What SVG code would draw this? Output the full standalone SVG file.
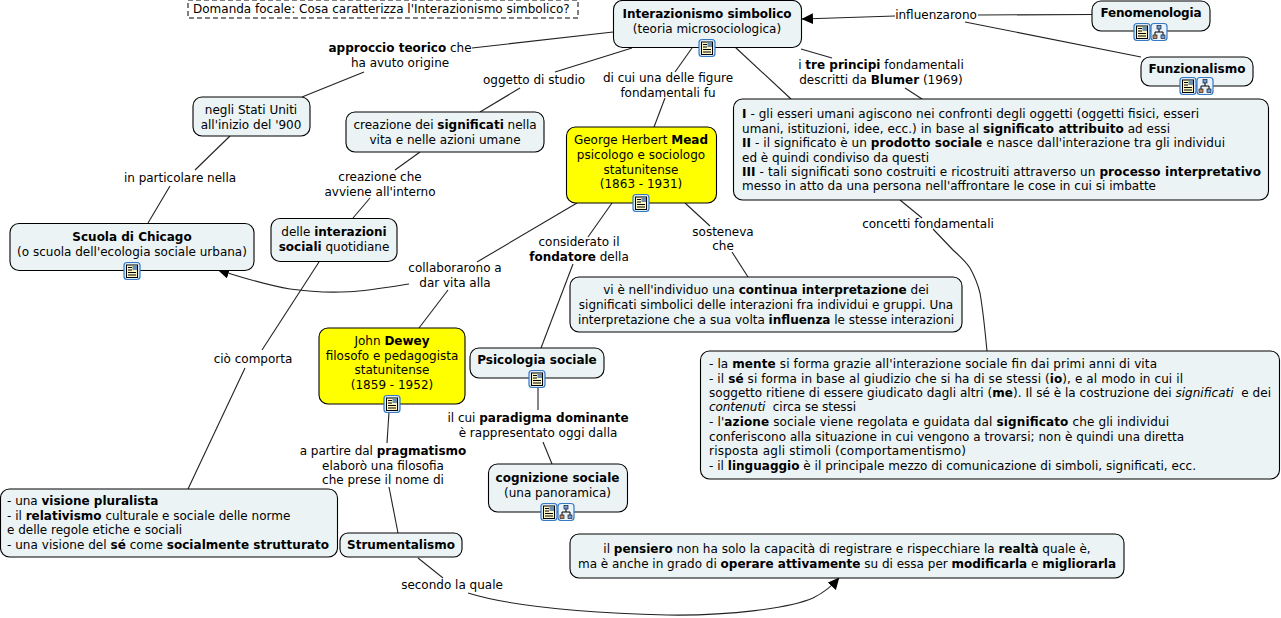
<svg xmlns="http://www.w3.org/2000/svg" width="1281" height="618" viewBox="0 0 1281 618">
<style>
text{font-family:"DejaVu Sans",Verdana,sans-serif;font-size:12px;fill:#000}
.m{text-anchor:middle}
.b{font-weight:bold}
.i{font-style:italic}
.p{white-space:pre}
.n{fill:#ebf3f5;stroke:#000;stroke-width:1.1}
.y{fill:#ffff00;stroke:#000;stroke-width:1.1}
#connectors path{fill:none;stroke:#222;stroke-width:1.1}
</style>
<defs>
<marker id="ah" markerUnits="userSpaceOnUse" markerWidth="13" markerHeight="12" refX="11" refY="5.500" orient="auto"><path d="M0,0L11.500,5.500L0,11Z" fill="#000"/></marker>
<g id="doc"><rect x="-8" y="-8.500" width="16" height="17" rx="3" fill="#dcebfa" stroke="#3578c4" stroke-width="1.200"/><rect x="-5.500" y="-6" width="11" height="12.500" fill="#fdf6c3" stroke="#000" stroke-width="1"/><path d="M-4,-3.500h4M-4,-1h4M-4,1.500h8M-4,4h8" stroke="#000" stroke-width="1"/><rect x="0.500" y="-5.500" width="4.500" height="4.500" fill="#6a8fb0"/></g>
<g id="map"><rect x="-8" y="-8.500" width="16" height="17" rx="3" fill="#eaf3fc" stroke="#3578c4" stroke-width="1.200"/><path d="M0,-3V0M-4,3V0H4V3" fill="none" stroke="#000" stroke-width="1"/><rect x="-2" y="-6.500" width="4" height="3.500" fill="#6f9fd8" stroke="#000" stroke-width=".6"/><rect x="-6" y="3" width="4" height="3.500" fill="#c08a6a" stroke="#000" stroke-width=".6"/><rect x="2" y="3" width="4" height="3.500" fill="#6f9fd8" stroke="#000" stroke-width=".6"/></g>
</defs>
<g id="connectors">
<path d="M895,16L802,19" marker-end="url(#ah)"/>
<path d="M978,15L1092,14.500"/>
<path d="M965,22L1141,57"/>
<path d="M613,32L472,48"/>
<path d="M364,72L302,97"/>
<path d="M632,48L555,72"/>
<path d="M520,88L480,112"/>
<path d="M692,48L675,72"/>
<path d="M665,98L654,127"/>
<path d="M735,47L791,99"/>
<path d="M801,49L832,58"/>
<path d="M905,88L922,99"/>
<path d="M900,200L922,218"/>
<path d="M933,229L953,250C962,258 966,262 970,268C975,277 978,285 980,293C983,310 985,330 987,351"/>
<path d="M230,136L195,170"/>
<path d="M170,186L148,223"/>
<path d="M420,152L395,170"/>
<path d="M370,198L353,218"/>
<path d="M319,262L262,350"/>
<path d="M245,368L188,489"/>
<path d="M577,203L477,262"/>
<path d="M409,284C370,290 340,296 290,289C265,285 245,278 218,270" marker-end="url(#ah)"/>
<path d="M448,290L419,328"/>
<path d="M612,203L588,237"/>
<path d="M573,264L541,348"/>
<path d="M685,203L710,226"/>
<path d="M732,252L748,277"/>
<path d="M389,412L387,443"/>
<path d="M389,487L398,533"/>
<path d="M538,387L538,410"/>
<path d="M543,442L552,464"/>
<path d="M418,558L443,578"/>
<path d="M468,593C500,603 560,612 667,615C730,616 790,608 813,598C825,592 832,586 839,578" marker-end="url(#ah)"/>
</g>
<g id="focal"><rect x="188" y="0" width="390" height="18" fill="#fff" stroke="#000" stroke-dasharray="5 3"/><text x="193" y="13">Domanda focale: Cosa caratterizza l'Interazionismo simbolico?</text></g>
<g id="interazionismo"><rect class="n" x="613.500" y="0.500" width="188" height="47" rx="9"/><text class="m b" x="707" y="18">Interazionismo simbolico</text><text class="m" x="707" y="33">(teoria microsociologica)</text><use href="#doc" x="707" y="48"/></g>
<g id="fenomenologia"><rect class="n" x="1092" y="1" width="118" height="30" rx="9"/><text class="m b" x="1151" y="17" textLength="101">Fenomenologia</text><use href="#doc" x="1142" y="32"/><use href="#map" x="1159" y="32"/></g>
<g id="funzionalismo"><rect class="n" x="1141" y="57" width="112" height="29" rx="9"/><text class="m b" x="1197" y="73">Funzionalismo</text><use href="#doc" x="1188" y="86"/><use href="#map" x="1205" y="86"/></g>
<g id="tre"><rect class="n" x="733.500" y="99" width="535" height="101" rx="9"/>
<text x="742" y="118" textLength="457"><tspan class="b">I</tspan> - gli esseri umani agiscono nei confronti degli oggetti (oggetti fisici, esseri</text>
<text x="742" y="133" textLength="428">umani, istituzioni, idee, ecc.) in base al <tspan class="b">significato attribuito</tspan> ad essi</text>
<text x="742" y="147" textLength="483"><tspan class="b">II</tspan> - il significato è un <tspan class="b">prodotto sociale</tspan> e nasce dall'interazione tra gli individui</text>
<text x="742" y="162">ed è quindi condiviso da questi</text>
<text x="742" y="176" textLength="519"><tspan class="b">III</tspan> - tali significati sono costruiti e ricostruiti attraverso un <tspan class="b">processo interpretativo</tspan></text>
<text x="742" y="190" textLength="414">messo in atto da una persona nell'affrontare le cose in cui si imbatte</text></g>
<g id="mead"><rect class="y" x="566.500" y="127" width="150" height="76" rx="9"/>
<text class="m" x="641" y="144">George Herbert <tspan class="b">Mead</tspan></text><text class="m" x="641" y="159">psicologo e sociologo</text><text class="m" x="641" y="174">statunitense</text><text class="m" x="641" y="188">(1863 - 1931)</text><use href="#doc" x="641" y="203"/></g>
<g id="significati"><rect class="n" x="346" y="112" width="198" height="40" rx="9"/><text class="m" x="445" y="129">creazione dei <tspan class="b">significati</tspan> nella</text><text class="m" x="445" y="144">vita e nelle azioni umane</text></g>
<g id="stati"><rect class="n" x="193" y="97" width="117" height="39" rx="9"/><text class="m" x="251" y="114">negli Stati Uniti</text><text class="m" x="251" y="129">all'inizio del '900</text></g>
<g id="chicago"><rect class="n" x="10" y="223.500" width="244" height="47" rx="9"/><text class="m b" x="132" y="241">Scuola di Chicago</text><text class="m" x="132" y="256">(o scuola dell'ecologia sociale urbana)</text><use href="#doc" x="132" y="271"/></g>
<g id="interazioni"><rect class="n" x="271" y="218.500" width="126" height="43" rx="9"/><text class="m" x="334" y="236">delle <tspan class="b">interazioni</tspan></text><text class="m" x="334" y="251"><tspan class="b">sociali</tspan> quotidiane</text></g>
<g id="vie"><rect class="n" x="570" y="277" width="392" height="55" rx="9"/><text class="m" x="766" y="294">vi è nell'individuo una <tspan class="b">continua interpretazione</tspan> dei</text><text class="m" x="766" y="309">significati simbolici delle interazioni fra individui e gruppi. Una</text><text class="m" x="766" y="324">interpretazione che a sua volta <tspan class="b">influenza</tspan> le stesse interazioni</text></g>
<g id="dewey"><rect class="y" x="319" y="328" width="146" height="76" rx="9"/><text class="m" x="392" y="345">John <tspan class="b">Dewey</tspan></text><text class="m" x="392" y="360">filosofo e pedagogista</text><text class="m" x="392" y="374">statunitense</text><text class="m" x="392" y="389">(1859 - 1952)</text><use href="#doc" x="392" y="404"/></g>
<g id="psicologia"><rect class="n" x="470" y="348" width="134" height="30" rx="9"/><text class="m b" x="537" y="364">Psicologia sociale</text><use href="#doc" x="537" y="379"/></g>
<g id="cognizione"><rect class="n" x="488.500" y="464" width="139" height="48" rx="9"/><text class="m b" x="557.500" y="482">cognizione sociale</text><text class="m" x="557.500" y="497">(una panoramica)</text><use href="#doc" x="549" y="512"/><use href="#map" x="566" y="512"/></g>
<g id="mente"><rect class="n" x="700.500" y="351" width="579" height="128" rx="9"/>
<text x="709" y="368" textLength="448">- la <tspan class="b">mente</tspan> si forma grazie all'interazione sociale fin dai primi anni di vita</text>
<text x="709" y="383" textLength="474">- il <tspan class="b">sé</tspan> si forma in base al giudizio che si ha di se stessi (<tspan class="b">io</tspan>), e al modo in cui il</text>
<text class="p" x="709" y="397" textLength="562">soggetto ritiene di essere giudicato dagli altri (<tspan class="b">me</tspan>). Il sé è la costruzione dei <tspan class="i">significati</tspan>  e dei</text>
<text class="p" x="709" y="411" textLength="147"><tspan class="i">contenuti</tspan>  circa se stessi</text>
<text x="709" y="426" textLength="460">- l'<tspan class="b">azione</tspan> sociale viene regolata e guidata dal <tspan class="b">significato</tspan> che gli individui</text>
<text x="709" y="441" textLength="475">conferiscono alla situazione in cui vengono a trovarsi; non è quindi una diretta</text>
<text x="709" y="455" textLength="257">risposta agli stimoli (comportamentismo)</text>
<text x="709" y="470" textLength="487">- il <tspan class="b">linguaggio</tspan> è il principale mezzo di comunicazione di simboli, significati, ecc.</text></g>
<g id="visione"><rect class="n" x="0.500" y="489" width="337" height="68" rx="9"/>
<text x="7" y="505">- una <tspan class="b">visione pluralista</tspan></text>
<text x="7" y="520">- il <tspan class="b">relativismo</tspan> culturale e sociale delle norme</text>
<text x="7" y="534">e delle regole etiche e sociali</text>
<text x="7" y="549" textLength="322">- una visione del <tspan class="b">sé</tspan> come <tspan class="b">socialmente strutturato</tspan></text></g>
<g id="strumentalismo"><rect class="n" x="340" y="533" width="122" height="24" rx="8"/><text class="m b" x="401" y="549">Strumentalismo</text></g>
<g id="pensiero"><rect class="n" x="570" y="534" width="554" height="44" rx="9"/><text class="m" x="847" y="553">il <tspan class="b">pensiero</tspan> non ha solo la capacità di registrare e rispecchiare la <tspan class="b">realtà</tspan> quale è,</text><text class="m" x="847" y="568">ma è anche in grado di <tspan class="b">operare attivamente</tspan> su di essa per <tspan class="b">modificarla</tspan> e <tspan class="b">migliorarla</tspan></text></g>
<g id="labels">
<text class="m" x="936" y="19">influenzarono</text>
<text class="m" x="400" y="52"><tspan class="b">approccio teorico</tspan> che</text><text class="m" x="400" y="67">ha avuto origine</text>
<text class="m" x="534" y="84">oggetto di studio</text>
<text class="m" x="668" y="82">di cui una delle figure</text><text class="m" x="668" y="97">fondamentali fu</text>
<text class="m" x="881" y="69">i <tspan class="b">tre principi</tspan> fondamentali</text><text class="m" x="881" y="84">descritti da <tspan class="b">Blumer</tspan> (1969)</text>
<text class="m" x="928" y="228">concetti fondamentali</text>
<text class="m" x="180" y="182">in particolare nella</text>
<text class="m" x="380" y="181">creazione che</text><text class="m" x="380" y="196">avviene all'interno</text>
<text class="m" x="253" y="363">ciò comporta</text>
<text class="m" x="455" y="272">collaborarono a</text><text class="m" x="455" y="287">dar vita alla</text>
<text class="m" x="579" y="246">considerato il</text><text class="m" x="579" y="261"><tspan class="b">fondatore</tspan> della</text>
<text class="m" x="723" y="236">sosteneva</text><text class="m" x="723" y="250">che</text>
<text class="m" x="383" y="455">a partire dal <tspan class="b">pragmatismo</tspan></text><text class="m" x="383" y="470">elaborò una filosofia</text><text class="m" x="383" y="484">che prese il nome di</text>
<text class="m" x="538" y="422">il cui <tspan class="b">paradigma dominante</tspan></text><text class="m" x="538" y="437">è rappresentato oggi dalla</text>
<text class="m" x="452" y="589">secondo la quale</text>
</g>
</svg>
